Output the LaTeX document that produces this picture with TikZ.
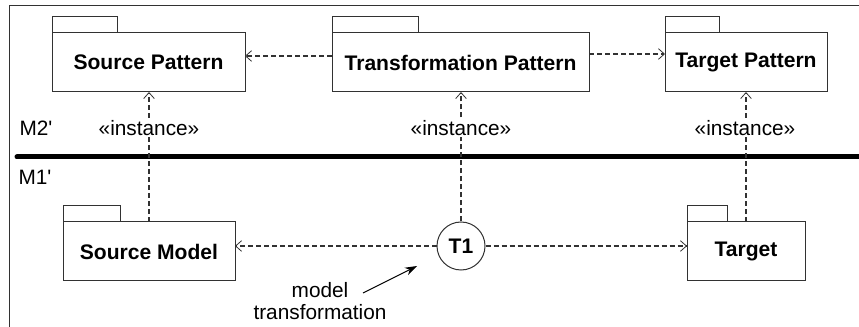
\documentclass[tikz,border=0pt]{standalone}
\usepackage{fontspec}
\setmainfont{Liberation Sans}
\usetikzlibrary{arrows.meta,positioning}
\definecolor{linegray}{RGB}{50,50,50}

\tikzset{
  pkg/.style={draw=linegray, line width=0.75pt, rectangle, inner sep=0pt, outer sep=0pt,
    minimum height=44.25pt, font=\fontsize{15.8}{18}\selectfont\bfseries},
  pkgtab/.style={draw=linegray, line width=0.75pt},
  dep/.style={draw=linegray, line width=0.85pt, dash pattern=on 3.75pt off 2.25pt,
    -{Straight Barb[length=4.5pt,width=8pt,line width=0.6pt]}},
  lbl/.style={font=\fontsize{15.6}{18}\selectfont, inner sep=1pt},
  inst/.style={lbl, fill=white}
}

\begin{document}
\begin{tikzpicture}[x=0.75pt, y=-0.75pt]
			\useasboundingbox (0,0) rectangle (859,327);
			% frame and level line
			\draw[linegray, line width=0.75pt] (9,330) -- (9,6) -- (862,6);
			\draw[line width=3.75pt, line cap=round] (17,157) -- (870,157);
			\node[lbl, anchor=west] (m2) at (18,128) {M2\textquotesingle};
			\node[lbl, anchor=west] (m1) at (17,177) {M1\textquotesingle};
			% packages
			\node[pkg, minimum width=144.75pt] (sp) at (148.5,62.5) {Source Pattern};
			\node[pkg, minimum width=192.75pt] (tp) at (460.5,62.5) {Transformation Pattern};
			\node[pkg, minimum width=121.5pt] (gp) at (746,62.5) {Target Pattern};
			\node[pkg, minimum width=129pt] (sm) at (149,251.5) {Source Model};
			\node[pkg, minimum width=88.5pt] (tg) at (746,251.5) {Target};
			\draw[pkgtab] (sp.north west) rectangle ++(65,-16);
			\draw[pkgtab] (tp.north west) rectangle ++(86,-16);
			\draw[pkgtab] (gp.north west) rectangle ++(54,-16);
			\draw[pkgtab] (sm.north west) rectangle ++(57,-16);
			\draw[pkgtab] (tg.north west) rectangle ++(40,-16);
			% transformation
			\node[circle, draw=linegray, line width=0.75pt, minimum size=36pt, inner sep=0pt,
				font=\fontsize{15.8}{18}\selectfont\bfseries] (t1) at (461,246) {T1};
			% dependencies
			\draw[dep] (tp.west |- 0,56) -- (sp.east |- 0,56);
			\draw[dep] (tp.east |- 0,54) -- (gp.west |- 0,54);
			\draw[dep] (t1.west) -- (sm.east |- t1.west);
			\draw[dep] (t1.east) -- (tg.west |- t1.east);
			\draw[dep] (sm.north) -- (sm.north |- sp.south);
			\draw[dep] (t1.north) -- (t1.north |- tp.south);
			\draw[dep] (tg.north) -- (tg.north |- gp.south);
			\node[inst] (i1) at (149,128) {«instance»};
			\node[inst] (i2) at (461,128) {«instance»};
			\node[inst] (i3) at (745,128) {«instance»};
			% note
			\node[lbl, align=center, inner sep=0pt] (mt) at (320,301) {model\\[-2pt]transformation};
			\coordinate (mtstart) at (363,293);
			\coordinate (mtend) at (417,266);
			\draw[line width=0.75pt, -{Stealth[length=9pt,width=6pt]}] (mtstart) -- (mtend);
		\end{tikzpicture}
\end{document}
